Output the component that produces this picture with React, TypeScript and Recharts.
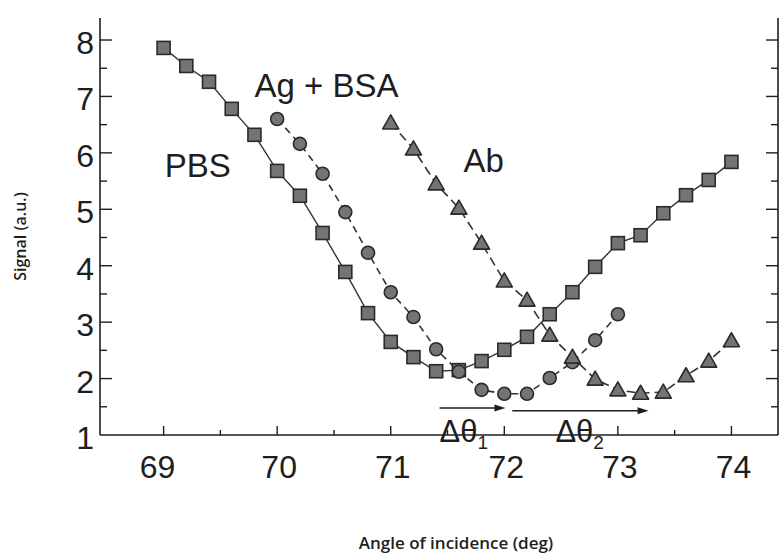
import React from 'react';
import { ComposedChart, Line, XAxis, YAxis, ReferenceDot, ReferenceLine } from 'recharts';

// ---- data ----
const pbsAngles = [69.0, 69.2, 69.4, 69.6, 69.8, 70.0, 70.2, 70.4, 70.6, 70.8, 71.0, 71.2, 71.4, 71.6, 71.8, 72.0, 72.2, 72.4, 72.6, 72.8, 73.0, 73.2, 73.4, 73.6, 73.8, 74.0];
const pbsSignal = [7.86, 7.54, 7.26, 6.78, 6.32, 5.68, 5.24, 4.58, 3.89, 3.16, 2.65, 2.38, 2.13, 2.15, 2.31, 2.51, 2.74, 3.14, 3.53, 3.98, 4.4, 4.54, 4.93, 5.25, 5.52, 5.84];

const bsaAngles = [70.0, 70.2, 70.4, 70.6, 70.8, 71.0, 71.2, 71.4, 71.6, 71.8, 72.0, 72.2, 72.4, 72.6, 72.8, 73.0];
const bsaSignal = [6.6, 6.16, 5.63, 4.95, 4.23, 3.53, 3.09, 2.52, 2.12, 1.8, 1.73, 1.73, 2.01, 2.29, 2.68, 3.14];

const abAngles = [71.0, 71.2, 71.4, 71.6, 71.8, 72.0, 72.2, 72.4, 72.6, 72.8, 73.0, 73.2, 73.4, 73.6, 73.8, 74.0];
const abSignal = [6.53, 6.07, 5.45, 5.02, 4.4, 3.73, 3.39, 2.77, 2.38, 1.99, 1.8, 1.74, 1.76, 2.05, 2.31, 2.67];

const xTicks = [69, 69.5, 70, 70.5, 71, 71.5, 72, 72.5, 73, 73.5, 74];
const yTicks = [1, 1.5, 2, 2.5, 3, 3.5, 4, 4.5, 5, 5.5, 6, 6.5, 7, 7.5, 8];

const seriesLabels = [
  { text: 'PBS', x: 69.01, y: 5.57 },
  { text: 'Ag + BSA', x: 69.8, y: 6.99 },
  { text: 'Ab', x: 71.64, y: 5.66 },
];
const shiftLabels = [
  { sub: '1', x: 71.43, y: 0.88 },
  { sub: '2', x: 72.45, y: 0.88 },
];
const shiftArrows = [
  { x1: 71.43, x2: 72.01, y: 1.48 },
  { x1: 72.07, x2: 73.27, y: 1.43 },
];

const X_DOMAIN: [number, number] = [68.44, 74.41];
const Y_DOMAIN: [number, number] = [1, 8.39];

const toPoints = (xs: number[], ys: number[]) => xs.map((a, i) => ({ angle: a, signal: ys[i] }));
const pbs = toPoints(pbsAngles, pbsSignal);
const bsa = toPoints(bsaAngles, bsaSignal);
const ab = toPoints(abAngles, abSignal);

const INK = '#1e1e1e';
const MFILL = '#747474';
const MSTROKE = '#2a2a2a';
const FONT = '"Liberation Sans", Arial, Helvetica, sans-serif';
const TITLE_FONT = '"Open Sans", "DejaVu Sans", sans-serif';

const SquareDot = (p: any) => {
  const { cx, cy, index } = p;
  if (cx == null || cy == null) return <g key={`s${index}`} />;
  return <rect key={`s${index}`} x={cx - 6.5} y={cy - 6.5} width={13} height={13} fill={MFILL} stroke={MSTROKE} strokeWidth={1.6} />;
};
const CircleDot = (p: any) => {
  const { cx, cy, index } = p;
  if (cx == null || cy == null) return <g key={`c${index}`} />;
  return <circle key={`c${index}`} cx={cx} cy={cy} r={6.5} fill={MFILL} stroke={MSTROKE} strokeWidth={1.6} />;
};
const TriDot = (p: any) => {
  const { cx, cy, index } = p;
  if (cx == null || cy == null) return <g key={`t${index}`} />;
  const pts = `${cx},${cy - 8} ${cx + 8},${cy + 6} ${cx - 8},${cy + 6}`;
  return <polygon key={`t${index}`} points={pts} fill={MFILL} stroke={MSTROKE} strokeWidth={1.6} strokeLinejoin="round" />;
};

const BottomTick = (p: any) => {
  const v = p.payload.value;
  const major = Number.isInteger(v);
  return (
    <g>
      <line x1={p.x} y1={p.y} x2={p.x} y2={p.y - (major ? 9 : 5)} stroke={INK} strokeWidth={1.4} />
      {major && (
        <text x={p.x + (v === 69 ? -6 : 2)} y={p.y + 43} textAnchor="middle" fontSize={32} fill={INK} fontFamily={FONT}>
          {v}
        </text>
      )}
    </g>
  );
};
const TopTick = (p: any) => {
  const v = p.payload.value;
  const major = Number.isInteger(v);
  return <line x1={p.x} y1={p.y} x2={p.x} y2={p.y + (major ? 9 : 5)} stroke={INK} strokeWidth={1.4} />;
};
const LeftTick = (p: any) => {
  const v = p.payload.value;
  const major = Number.isInteger(v);
  return (
    <g>
      {v !== 1 && <line x1={p.x} y1={p.y} x2={p.x + (major ? 12 : 7)} y2={p.y} stroke={INK} strokeWidth={1.4} />}
      {major && (
        <text x={p.x - 6} y={p.y + 14} textAnchor="end" fontSize={32} fill={INK} fontFamily={FONT}>
          {v}
        </text>
      )}
    </g>
  );
};
const RightTick = (p: any) => {
  const v = p.payload.value;
  const major = Number.isInteger(v);
  if (v === 1) return <g />;
  return <line x1={p.x} y1={p.y} x2={p.x - (major ? 12 : 7)} y2={p.y} stroke={INK} strokeWidth={1.4} />;
};

const Arrow = (p: any) => {
  const { x1, y1, x2, y2 } = p;
  if (x1 == null) return <g />;
  return (
    <g>
      <line x1={x1} y1={y1} x2={x2 - 6} y2={y2} stroke={INK} strokeWidth={1.5} />
      <polygon points={`${x2},${y2} ${x2 - 11},${y2 - 3.5} ${x2 - 11},${y2 + 3.5}`} fill={INK} />
    </g>
  );
};

export default function App() {
  return (
    <div style={{ position: 'absolute', left: 0, top: 0, width: 780, height: 557, background: '#fff' }}>
      <ComposedChart width={780} height={557} margin={{ top: 18, right: 0, bottom: 0, left: 0 }}>
        <XAxis
          xAxisId="b"
          type="number"
          dataKey="angle"
          domain={X_DOMAIN}
          allowDataOverflow
          ticks={xTicks}
          tickSize={0}
          tickMargin={0}
          tickLine={false}
          tick={<BottomTick />}
          interval={0}
          height={122}
          axisLine={{ stroke: INK, strokeWidth: 1.6 }}
          label={(lp: any) => {
            const vb = lp.viewBox || {};
            return (
              <text x={(vb.x ?? 100) + (vb.width ?? 678) / 2 + 17} y={(vb.y ?? 435) + 114} textAnchor="middle" fontSize={17} fontWeight={600} fill={INK} fontFamily={TITLE_FONT}>
                Angle of incidence (deg)
              </text>
            );
          }}
        />
        <XAxis
          xAxisId="t"
          orientation="top"
          type="number"
          domain={X_DOMAIN}
          allowDataOverflow
          ticks={xTicks}
          tickSize={0}
          tickMargin={0}
          tickLine={false}
          tick={<TopTick />}
          interval={0}
          height={0}
          axisLine={{ stroke: INK, strokeWidth: 1.6 }}
        />
        <YAxis
          yAxisId="l"
          type="number"
          dataKey="signal"
          domain={Y_DOMAIN}
          allowDataOverflow
          ticks={yTicks}
          tickSize={0}
          tickMargin={0}
          tickLine={false}
          tick={<LeftTick />}
          interval={0}
          width={100}
          axisLine={{ stroke: INK, strokeWidth: 1.6 }}
          label={(lp: any) => {
            const vb = lp.viewBox || {};
            const cx = 26;
            const cy = (vb.y ?? 18) + (vb.height ?? 417) / 2 + 10;
            return (
              <text x={cx} y={cy} transform={`rotate(-90 ${cx} ${cy})`} textAnchor="middle" fontSize={16} fontWeight={600} fill={INK} fontFamily={TITLE_FONT}>
                Signal (a.u.)
              </text>
            );
          }}
        />
        <YAxis
          yAxisId="r"
          orientation="right"
          type="number"
          domain={Y_DOMAIN}
          allowDataOverflow
          ticks={yTicks}
          tickSize={0}
          tickMargin={0}
          tickLine={false}
          tick={<RightTick />}
          interval={0}
          width={2}
          axisLine={{ stroke: INK, strokeWidth: 1.6 }}
        />

        <Line xAxisId="b" yAxisId="l" data={pbs} dataKey="signal" type="linear" stroke="#333" strokeWidth={1.4} dot={SquareDot} activeDot={false} isAnimationActive={false} />
        <Line xAxisId="b" yAxisId="l" data={bsa} dataKey="signal" type="linear" stroke="#333" strokeWidth={1.6} strokeDasharray="7 5" dot={CircleDot} activeDot={false} isAnimationActive={false} />
        <Line xAxisId="b" yAxisId="l" data={ab} dataKey="signal" type="linear" stroke="#333" strokeWidth={1.6} strokeDasharray="9 5" dot={TriDot} activeDot={false} isAnimationActive={false} />

        {shiftArrows.map((a, i) => (
          <ReferenceLine
            key={`arr${i}`}
            xAxisId="b"
            yAxisId="l"
            segment={[{ x: a.x1, y: a.y }, { x: a.x2, y: a.y }]}
            ifOverflow="visible"
            shape={Arrow}
          />
        ))}

        {seriesLabels.map((l, i) => (
          <ReferenceDot
            key={`lbl${i}`}
            xAxisId="b"
            yAxisId="l"
            x={l.x}
            y={l.y}
            r={0}
            ifOverflow="visible"
            shape={(p: any) => (
              <text x={p.cx} y={p.cy} textAnchor="start" fontSize={33} fill={INK} fontFamily={FONT}>
                {l.text}
              </text>
            )}
          />
        ))}

        {shiftLabels.map((l, i) => (
          <ReferenceDot
            key={`dl${i}`}
            xAxisId="b"
            yAxisId="l"
            x={l.x}
            y={l.y}
            r={0}
            ifOverflow="visible"
            shape={(p: any) => (
              <text x={p.cx} y={p.cy} textAnchor="start" fontSize={31} fill={INK} fontFamily={FONT}>
                Δθ
                <tspan fontSize={19} dy={7}>{l.sub}</tspan>
              </text>
            )}
          />
        ))}
      </ComposedChart>
    </div>
  );
}
